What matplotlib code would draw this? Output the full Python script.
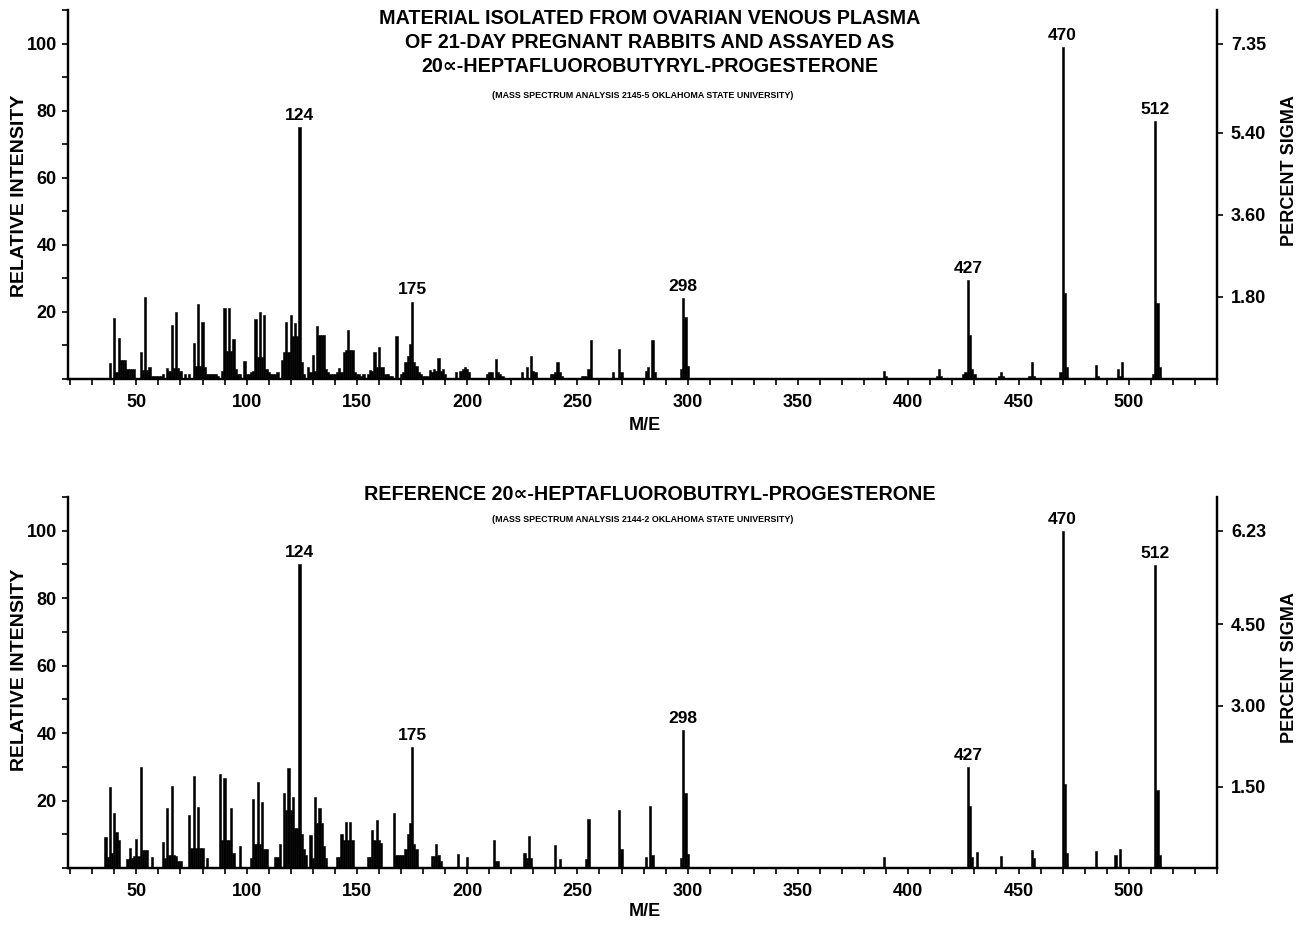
import matplotlib
matplotlib.use("Agg")
import matplotlib.pyplot as plt
from matplotlib.ticker import MultipleLocator, FixedLocator

plt.rcParams['font.family'] = ['Liberation Sans', 'DejaVu Sans']
plt.rcParams['font.weight'] = 'bold'

# ---------------- data: sample (top panel) ----------------
sample_mz = [38, 40, 41, 42, 43, 44, 45, 46, 47, 48, 49, 52, 53, 54, 55, 56, 57, 58, 59, 60, 61, 62,
             64, 65, 66, 67, 68, 69, 70, 72, 74, 76, 77, 78, 79, 80, 81, 82, 83, 84, 85, 86, 87,
             89, 90, 91, 92, 93, 94, 95, 96, 97, 99, 100, 101, 102, 103, 104, 105, 106, 107, 108,
             109, 110, 111, 112, 113, 114, 116, 117, 118, 119, 120, 121, 122, 123, 124, 125, 126,
             128, 129, 130, 131, 132, 133, 134, 135, 136, 137, 138, 139, 140, 141, 142, 143, 144,
             145, 146, 147, 148, 149, 150, 151, 152, 153, 155, 156, 157, 158, 159, 160, 161, 162,
             163, 164, 165, 166, 168, 170, 171, 172, 173, 174, 175, 176, 177, 178, 179, 180, 181,
             182, 183, 184, 185, 186, 187, 188, 189, 190, 195, 197, 198, 199, 200, 201, 209, 210,
             211, 213, 214, 215, 216, 225, 227, 229, 230, 231, 238, 239, 240, 241, 242, 243, 252,
             253, 254, 255, 256, 266, 269, 270, 281, 282, 284, 285, 297, 298, 299, 300,
             389, 390, 413, 414, 415, 425, 426, 427, 428, 429, 430, 441, 442, 443, 455, 456, 457,
             469, 470, 471, 472, 485, 486, 495, 496, 497, 511, 512, 513, 514]
sample_int = [4.7, 18.2, 2.0, 12.2, 5.7, 5.7, 5.7, 3.0, 3.0, 3.0, 3.0, 7.9, 2.7, 24.5, 2.7, 3.5, 1.0,
              1.0, 1.0, 1.0, 1.0, 1.5,
              3.3, 2.5, 16.0, 3.3, 20.0, 3.3, 2.5, 1.5, 1.5, 10.6, 4.0, 22.3, 4.0, 17.0, 3.5, 1.5,
              1.5, 1.5, 1.5, 1.5, 1.0,
              2.5, 21.3, 8.2, 21.3, 8.2, 12.0, 3.0, 1.5, 1.5, 5.5, 1.5, 1.5, 2.0, 2.5, 18.0, 6.6,
              20.0, 6.6, 19.0,
              3.0, 2.0, 1.5, 1.5, 1.5, 2.0, 5.7, 7.9, 16.9, 7.9, 19.0, 12.9, 16.6, 12.9, 75.0, 5.0,
              1.5,
              3.7, 2.0, 7.2, 2.5, 15.9, 13.2, 13.2, 13.2, 3.0, 2.0, 1.5, 1.5, 1.5, 2.0, 3.3, 2.0,
              8.1,
              8.6, 14.6, 8.6, 8.6, 2.0, 1.5, 1.5, 1.0, 1.5, 1.5, 2.7, 2.5, 8.1, 3.7, 9.6, 3.7, 3.7,
              1.5, 1.5, 1.0, 1.0, 12.9, 1.5, 2.0, 5.0, 7.0, 10.4, 23.1, 5.0, 4.0, 2.0, 1.5, 1.0,
              1.0,
              1.0, 2.7, 2.0, 3.0, 2.5, 6.2, 2.5, 3.0, 1.5, 2.0, 2.5, 3.0, 3.5, 3.0, 2.0, 1.5, 2.0,
              2.0, 6.0, 2.0, 1.5, 1.0, 2.0, 3.5, 7.0, 2.5, 2.0, 1.5, 1.5, 2.0, 5.0, 2.0, 1.0,
              1.0,
              1.0, 1.0, 3.0, 11.6, 2.0, 8.8, 2.0, 2.5, 3.5, 11.6, 2.0, 3.0, 24.0, 18.5, 4.0,
              2.5, 1.0, 1.0, 3.0, 1.0, 1.5, 2.0, 29.5, 13.0, 3.0, 1.5, 1.0, 2.0, 1.0, 1.0, 5.0, 1.0,
              2.0, 99.0, 25.6, 3.5, 4.2, 1.0, 3.0, 1.0, 5.0, 1.5, 77.0, 22.6, 3.5]

# ---------------- data: reference (bottom panel) ----------------
ref_mz = [36, 37, 38, 39, 40, 41, 42, 46, 47, 48, 49, 50, 51, 52, 53, 54, 55, 57, 62, 63, 64, 65,
          66, 67, 68, 69, 70, 74, 75, 76, 77, 78, 79, 80, 82, 88, 89, 90, 91, 92, 93, 94, 97,
          102, 103, 104, 105, 106, 107, 108, 109, 113, 114, 115, 117, 118, 119, 120, 121, 122,
          123, 124, 125, 126, 127, 129, 130, 131, 132, 133, 134, 135, 136, 141, 142, 143, 144,
          145, 146, 147, 148, 155, 156, 157, 158, 159, 160, 161, 167, 168, 169, 170, 171, 172,
          173, 174, 175, 176, 177, 184, 185, 186, 187, 188, 196, 200, 212, 213, 214, 226, 227,
          228, 229, 240, 242, 254, 255, 269, 270, 281, 283, 284, 297, 298, 299, 300,
          389, 427, 428, 429, 431, 442, 456, 457, 470, 471, 472, 485, 494, 496, 512, 513, 514]
ref_int = [9.2, 3.3, 23.9, 4.3, 16.4, 10.7, 8.3, 2.8, 5.8, 3.0, 3.5, 8.7, 3.5, 29.8, 5.3, 5.3, 5.3,
           3.3, 7.7, 3.0, 17.7, 3.8,
           24.4, 3.8, 3.5, 2.0, 2.0, 15.7, 5.8, 27.3, 5.8, 18.2, 5.8, 5.8, 3.0, 27.8, 8.2, 26.8,
           8.2, 8.2, 17.7, 4.5, 6.5,
           3.0, 20.6, 7.2, 25.6, 7.2, 19.6, 5.5, 5.5, 3.3, 3.3, 7.0, 22.1, 17.2, 29.6, 17.2, 21.1,
           12.0,
           12.0, 90.0, 10.0, 5.6, 4.0, 9.7, 3.0, 21.1, 13.2, 17.7, 13.2, 6.4, 3.0, 3.3, 3.3, 10.2,
           8.2,
           13.7, 8.2, 13.7, 8.2, 3.3, 3.3, 11.2, 8.2, 14.2, 8.2, 7.5, 16.2, 3.8, 3.8, 4.0, 4.0,
           5.5,
           10.2, 13.3, 35.8, 7.0, 5.5, 3.5, 3.5, 7.0, 4.0, 2.0, 4.2, 3.2, 8.2, 2.0, 2.0, 4.4, 3.0,
           9.6, 3.0, 6.7, 2.6, 2.6, 14.6, 17.1, 5.5, 3.2, 18.5, 4.0, 3.0, 40.8, 22.3, 4.2,
           3.2, 30.0, 18.3, 3.2, 4.7, 3.5, 5.4, 3.0, 100.0, 25.0, 4.4, 5.0, 4.0, 5.5, 89.8, 23.0,
           4.0]

labeled_peaks = [124, 175, 298, 427, 470, 512]

sample_sigma_ticks = [1.80, 3.60, 5.40, 7.35]
sample_sigma_max = 7.35
ref_sigma_ticks = [1.50, 3.00, 4.50, 6.23]
ref_sigma_max = 6.23

x_ticks = [50, 100, 150, 200, 250, 300, 350, 400, 450, 500]
y_ticks = [20, 40, 60, 80, 100]

sample_title = ["MATERIAL ISOLATED FROM OVARIAN VENOUS PLASMA",
                "OF 21-DAY PREGNANT RABBITS AND ASSAYED AS",
                "20\u221d-HEPTAFLUOROBUTYRYL-PROGESTERONE"]
sample_sub = "(MASS SPECTRUM ANALYSIS 2145-5 OKLAHOMA STATE UNIVERSITY)"
ref_title = ["REFERENCE 20\u221d-HEPTAFLUOROBUTRYL-PROGESTERONE"]
ref_sub = "(MASS SPECTRUM ANALYSIS 2144-2 OKLAHOMA STATE UNIVERSITY)"

W, H = 1299, 925
fig = plt.figure(figsize=(W / 100, H / 100), dpi=100)
fig.patch.set_facecolor('white')


def panel(rect, mz, inten, sig_ticks, sig_max, title_lines, title_y, sub, sub_y,
          ylab_y, rlab_y, xlab_y):
    ax = fig.add_axes(rect)
    ax.bar(mz, inten, width=1.0, color='black', edgecolor='black', linewidth=0.4)
    ax.set_xlim(19, 540)
    ax.set_ylim(0, 110)
    for s in ['left', 'bottom', 'right']:
        ax.spines[s].set_linewidth(1.6)
    ax.spines['top'].set_visible(False)
    ax.xaxis.set_major_locator(FixedLocator(x_ticks))
    ax.xaxis.set_minor_locator(MultipleLocator(10))
    ax.yaxis.set_major_locator(FixedLocator(y_ticks))
    ax.yaxis.set_minor_locator(MultipleLocator(10))
    ax.tick_params(axis='x', which='both', direction='out', length=4, width=1.2, pad=7,
                   labelsize=13)
    ax.tick_params(axis='y', which='both', direction='out', length=4, width=1.2, pad=4,
                   labelsize=13)
    for lab in ax.get_xticklabels() + ax.get_yticklabels():
        lab.set_fontweight('bold')
    for m, v in zip(mz, inten):
        if m in labeled_peaks:
            ax.annotate(str(m), (m, v), xytext=(0, 3), textcoords='offset points',
                        ha='center', va='bottom', fontsize=12.5, fontweight='bold')
    ax2 = ax.twinx()
    ax2.set_ylim(0, 110 * sig_max / 100.0)
    ax2.yaxis.set_major_locator(FixedLocator(sig_ticks))
    ax2.set_yticklabels([f"{t:.2f}" for t in sig_ticks], fontweight='bold')
    ax2.tick_params(axis='y', direction='out', length=4, width=1.2, pad=6, labelsize=13)
    for s in ['left', 'bottom', 'right']:
        ax2.spines[s].set_linewidth(1.6)
    ax2.spines['top'].set_visible(False)

    for line, ty in zip(title_lines, title_y):
        fig.text(650 / W, 1 - ty / H, line, ha='center', va='center', fontsize=14.2,
                 fontweight='bold')
    fig.text(643 / W, 1 - sub_y / H, sub, ha='center', va='center', fontsize=6.4,
             fontweight='bold')
    fig.text(20 / W, 1 - ylab_y / H, "RELATIVE INTENSITY", rotation=90, ha='center',
             va='center', fontsize=14, fontweight='bold')
    fig.text(1290 / W, 1 - rlab_y / H, "PERCENT SIGMA", rotation=90, ha='center',
             va='center', fontsize=13, fontweight='bold')
    fig.text(645 / W, 1 - xlab_y / H, "M/E", ha='center', va='center', fontsize=13,
             fontweight='bold')
    return ax


panel([68 / W, 1 - 379 / H, (1217 - 68) / W, (379 - 10) / H], sample_mz, sample_int,
      sample_sigma_ticks, sample_sigma_max, sample_title, [18, 42, 66], sample_sub, 95,
      196, 171, 425)
panel([68 / W, 1 - 868 / H, (1217 - 68) / W, (868 - 497) / H], ref_mz, ref_int,
      ref_sigma_ticks, ref_sigma_max, ref_title, [494], ref_sub, 519,
      670, 668, 912)

fig.savefig("out.png", dpi=100, facecolor='white')
